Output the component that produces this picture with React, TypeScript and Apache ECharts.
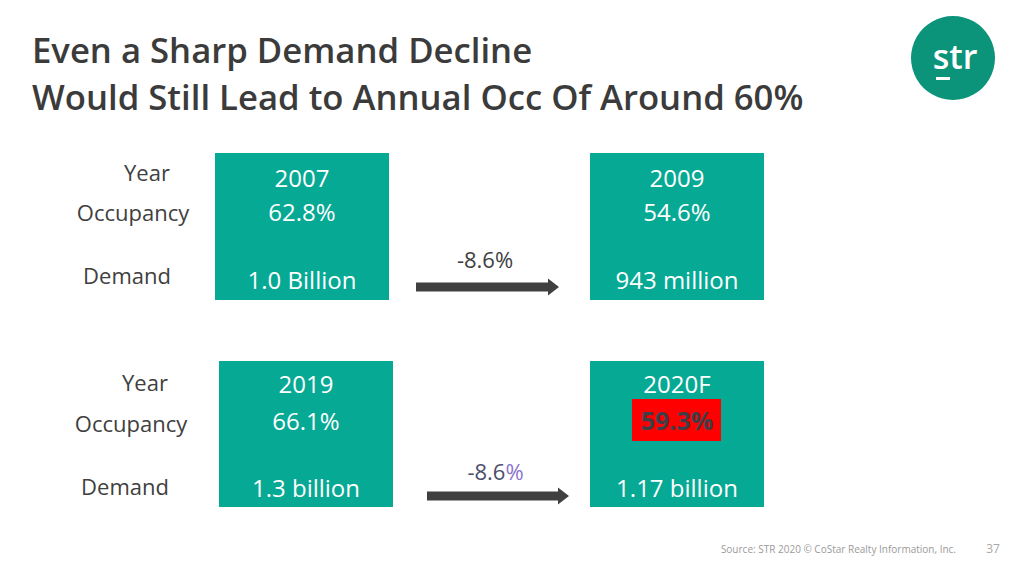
import React, { useEffect, useRef } from "react";
import * as echarts from "echarts";

// ---- data ----
const titleLines = ["Even a Sharp Demand Decline", "Would Still Lead to Annual Occ Of Around 60%"];
const rowLabels = ["Year", "Occupancy", "Demand"];
const years = ["2007", "2009", "2019", "2020F"];
const occupancy = [62.8, 54.6, 66.1, 59.3];
const demand = ["1.0 Billion", "943 million", "1.3 billion", "1.17 billion"];
const demandChange = [-8.6, -8.6];
const highlightIndex = 3;
const sourceText = "Source: STR 2020 \u00a9 CoStar Realty Information, Inc.";
const pageNumber = "37";

const TEAL = "#06a994";
const DARK = "#404040";
const FONT = "'Open Sans', sans-serif";

function txt(text: string, x: number, y: number, size: number, fill: string, align = "center", weight = "normal", extra: any = {}) {
  return {
    type: "text",
    x,
    y,
    silent: true,
    style: {
      text,
      fill,
      font: `${weight} ${size}px ${FONT}`,
      align,
      verticalAlign: "middle",
      textAlign: align,
      textVerticalAlign: "middle",
      ...extra,
    },
  };
}

export default function App() {
  const ref = useRef<HTMLDivElement>(null);
  useEffect(() => {
    if (!ref.current) return;
    const chart = echarts.init(ref.current, undefined, { renderer: "svg" });

    // layout per row (positions only)
    const rows = [
      { boxes: [{ x: 215, w: 174 }, { x: 590, w: 174 }], top: 153, h: 147, labelX: [147, 133, 127], labelDy: [19, 59, 122], textDy: [24, 58, 126], arrow: { x0: 416, x1: 559, y: 287 }, changeY: 259 },
      { boxes: [{ x: 219, w: 174 }, { x: 590, w: 174 }], top: 361, h: 146, labelX: [145, 131, 125], labelDy: [21, 62, 125], textDy: [22, 59, 126], arrow: { x0: 427, x1: 569, y: 496 }, changeY: 471 },
    ];

    const elements: any[] = [];
    // title
    titleLines.forEach((t, i) => {
      elements.push(txt(t, 32, 49 + i * 47, 34.7, "#3b3b3b", "left", "600"));
    });
    // logo
    elements.push({ type: "circle", shape: { cx: 953, cy: 58, r: 42 }, style: { fill: "#0b947a" }, silent: true });
    elements.push(txt("str", 955, 56, 34, "#ffffff", "center", "600"));
    elements.push({ type: "rect", shape: { x: 936, y: 77, width: 14, height: 3 }, style: { fill: "#ffffff" }, silent: true });

    rows.forEach((row, r) => {
      rowLabels.forEach((lab, k) => {
        elements.push(txt(lab, row.labelX[k], row.top + row.labelDy[k], 22, DARK));
      });
      row.boxes.forEach((b, j) => {
        const idx = r * 2 + j;
        const cx = b.x + b.w / 2;
        elements.push({ type: "rect", shape: { x: b.x, y: row.top, width: b.w, height: row.h }, style: { fill: TEAL }, silent: true });
        elements.push(txt(years[idx], cx, row.top + row.textDy[0], 24, "#ffffff"));
        const occ = occupancy[idx].toFixed(1) + "%";
        if (idx === highlightIndex) {
          elements.push({ type: "rect", shape: { x: cx - 45, y: row.top + row.textDy[1] - 21, width: 89, height: 42 }, style: { fill: "#ff0000" }, silent: true });
          elements.push(txt(occ, cx, row.top + row.textDy[1], 25, "#3e3e48", "center", "bold"));
        } else {
          elements.push(txt(occ, cx, row.top + row.textDy[1], 24, "#ffffff"));
        }
        elements.push(txt(demand[idx], cx, row.top + row.textDy[2], 24, "#ffffff"));
      });
      // arrow
      const a = row.arrow;
      const headLen = 11;
      const sh = 4.5;
      const hh = 8.5;
      elements.push({
        type: "polygon",
        silent: true,
        shape: {
          points: [
            [a.x0, a.y - sh], [a.x1 - headLen, a.y - sh], [a.x1 - headLen, a.y - hh], [a.x1, a.y],
            [a.x1 - headLen, a.y + hh], [a.x1 - headLen, a.y + sh], [a.x0, a.y + sh],
          ],
        },
        style: { fill: "#404040" },
      });
      const chg = demandChange[r].toFixed(1);
      const mid = (a.x0 + a.x1 - headLen) / 2 + 3;
      if (r === 0) {
        elements.push(txt(chg + "%", mid, row.changeY, 22, DARK));
      } else {
        elements.push(txt(`{a|${chg}}{b|%}`, mid, row.changeY, 22, DARK, "center", "normal", {
          rich: {
            a: { fill: "#4b4e6a", font: `normal 22px ${FONT}` },
            b: { fill: "#8a74cc", font: `normal 22px ${FONT}` },
          },
        }));
      }
    });

    // footer
    elements.push(txt(sourceText, 956, 549, 10, "#9a9a9a", "right"));
    elements.push(txt(pageNumber, 993, 548, 12, "#a8a8a8"));

    chart.setOption({
      animation: false,
      backgroundColor: "#ffffff",
      graphic: { elements },
    });
    return () => chart.dispose();
  }, []);
  return <div ref={ref} style={{ position: "fixed", left: 0, top: 0, width: 1024, height: 570 }} />;
}
